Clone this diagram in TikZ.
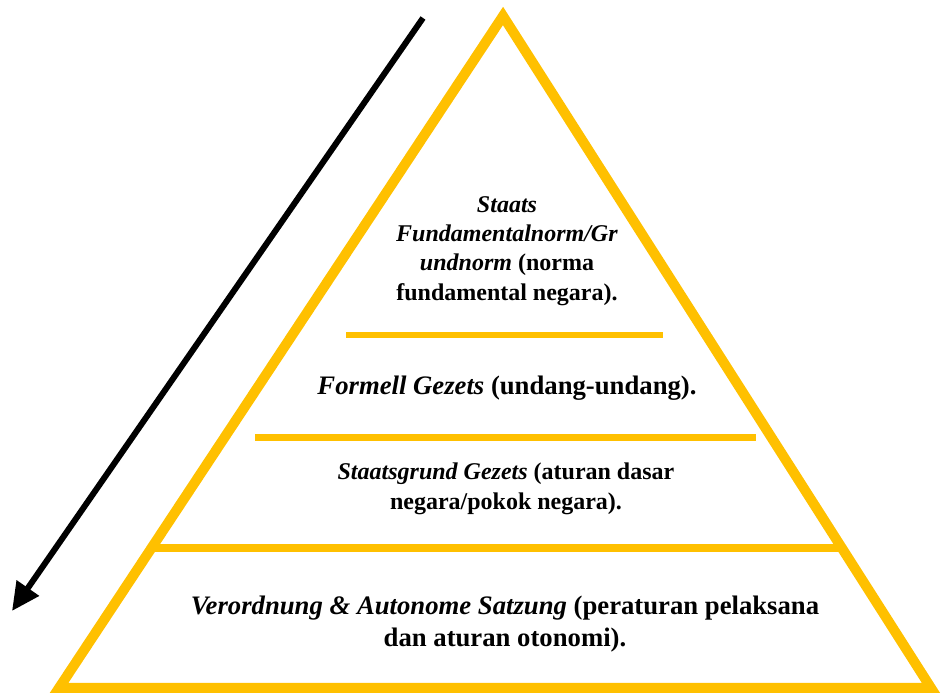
\documentclass[tikz,border=0pt]{standalone}
\usepackage{fontspec}
\setmainfont{Liberation Serif}
\usepackage{tikz}
\usetikzlibrary{arrows.meta, calc}
\definecolor{pyrgold}{HTML}{FFC000}

\begin{document}
\begin{tikzpicture}[
        x=1pt, y=1pt,
        layer/.style={draw=pyrgold, line width=10pt, line join=miter},
        divider/.style={draw=pyrgold, line width=7pt},
        lbl/.style={align=center}
        ]
    % Define styles
    \tikzstyle{downarrow} = [draw=black, line width=6pt, -{Triangle[length=28pt, width=26pt]}]

    \useasboundingbox (0, 0) rectangle (942, 693);

    % Define pyramid corners
    \coordinate (A) at (503, 677);
    \coordinate (B) at (59, 5);
    \coordinate (C) at (931, 5);

    % Define arrow ends
    \coordinate (s) at (423, 675);
    \coordinate (t) at (12, 82);

    % Draw pyramid
    \draw[layer] (A) -- (B) -- (C) -- cycle;

    % Draw dividing lines
    \draw[divider, line width=6pt] (346, 358) -- (663, 358);
    \draw[divider] (255, 255) -- (756, 255);
    \draw[divider, line width=8pt] ($(A)!0.7917!(B)$) -- ($(A)!0.7917!(C)$);

    % Draw arrow
    \draw[downarrow] (s) -- (t);

    % Define level labels
    \node[lbl, font=\bfseries\fontsize{24}{29.3}\selectfont] (L1) at (507, 442) {\textit{Staats}\\ \textit{Fundamentalnorm/Gr}\\ \textit{undnorm} (norma\\ fundamental negara).};
    \node[lbl, font=\bfseries\fontsize{26.7}{32}\selectfont] (L2) at (507, 305) {\textit{Formell Gezets} (undang-undang).};
    \node[lbl, font=\bfseries\fontsize{24}{30}\selectfont] (L3) at (506, 204) {\textit{Staatsgrund Gezets} (aturan dasar\\ negara/pokok negara).};
    \node[lbl, font=\bfseries\fontsize{26.7}{32}\selectfont] (L4) at (505, 69) {\textit{Verordnung \& Autonome Satzung} (peraturan pelaksana\\ dan aturan otonomi).};

\end{tikzpicture}
\end{document}
